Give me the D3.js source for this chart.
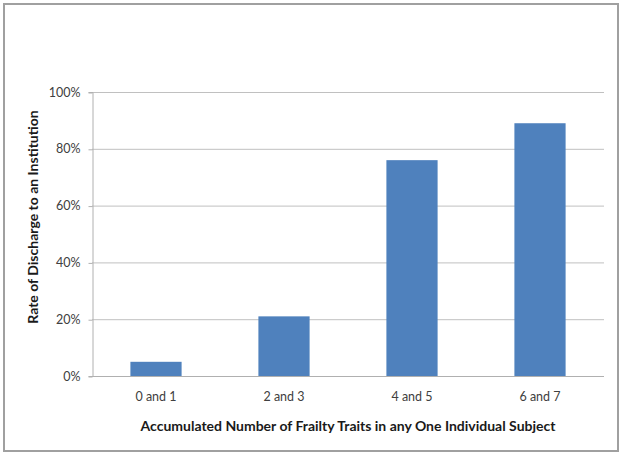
<!DOCTYPE html>
<html><head><meta charset="utf-8">
<script src="https://cdn.jsdelivr.net/npm/d3@7"></script>
<style>html,body{margin:0;padding:0;background:#fff;}</style>
</head><body>
<svg id="c" width="624" height="456"></svg>
<script>
const categories = ["0 and 1", "2 and 3", "4 and 5", "6 and 7"];
const values = [0.05, 0.21, 0.76, 0.89];
const yTicks = [0, 0.2, 0.4, 0.6, 0.8, 1.0];
const xTitle = "Accumulated Number of Frailty Traits in any One Individual Subject";
const yTitle = "Rate of Discharge to an Institution";

const svg = d3.select("#c");
const font = "Lato, 'Open Sans', sans-serif";
svg.append("rect").attr("x", 4).attr("y", 4).attr("width", 614).attr("height", 447)
  .attr("fill", "#fff").attr("stroke", "#a0a0a0").attr("stroke-width", 2);

const pLeft = 92, pRight = 604, pTop = 92, pBottom = 376;
const x = d3.scaleBand().domain(categories).range([pLeft, pRight]).paddingInner(0.6).paddingOuter(0.3);
const y = d3.scaleLinear().domain([0, 1]).range([pBottom, pTop]);

// gridlines
svg.append("g").selectAll("line").data(yTicks).join("line")
  .attr("x1", pLeft).attr("x2", pRight)
  .attr("y1", d => y(d) + 0.5).attr("y2", d => y(d) + 0.5)
  .attr("stroke", "#c0c0c0").attr("stroke-width", 1);

// y axis
const ya = svg.append("g").attr("transform", `translate(${pLeft + 0.5},0)`)
  .call(d3.axisLeft(y).tickValues(yTicks).tickFormat(d3.format(".0%")).tickSize(4).tickPadding(8));
ya.select(".domain").attr("stroke", "#b0b0b0");
ya.selectAll(".tick line").attr("stroke", "#b0b0b0").attr("transform", "translate(0,0.5)");
ya.selectAll("text").attr("font-family", font).attr("font-size", 12.5).attr("fill", "#404040");

// bars
svg.append("g").selectAll("rect").data(values).join("rect")
  .attr("x", (d, i) => x(categories[i]))
  .attr("width", x.bandwidth())
  .attr("y", d => y(d))
  .attr("height", d => y(0) - y(d))
  .attr("fill", "#4f81bd");

// x axis
const xa = svg.append("g").attr("transform", `translate(0,${pBottom + 0.5})`)
  .call(d3.axisBottom(x).tickSize(0).tickPadding(16));
xa.select(".domain").attr("stroke", "#b0b0b0").attr("d", `M${pLeft},0H${pRight}`);
xa.selectAll("text").attr("font-family", font).attr("font-size", 12.5).attr("fill", "#404040");

// titles
svg.append("text").attr("x", 348).attr("y", 431)
  .attr("text-anchor", "middle").attr("font-family", font).attr("font-size", 14)
  .attr("font-weight", "bold").attr("fill", "#1a1a1a").text(xTitle);
svg.append("text").attr("transform", `translate(38,${217}) rotate(-90)`)
  .attr("text-anchor", "middle").attr("font-family", font).attr("font-size", 14)
  .attr("font-weight", "bold").attr("fill", "#1a1a1a").text(yTitle);
</script>
</body></html>
